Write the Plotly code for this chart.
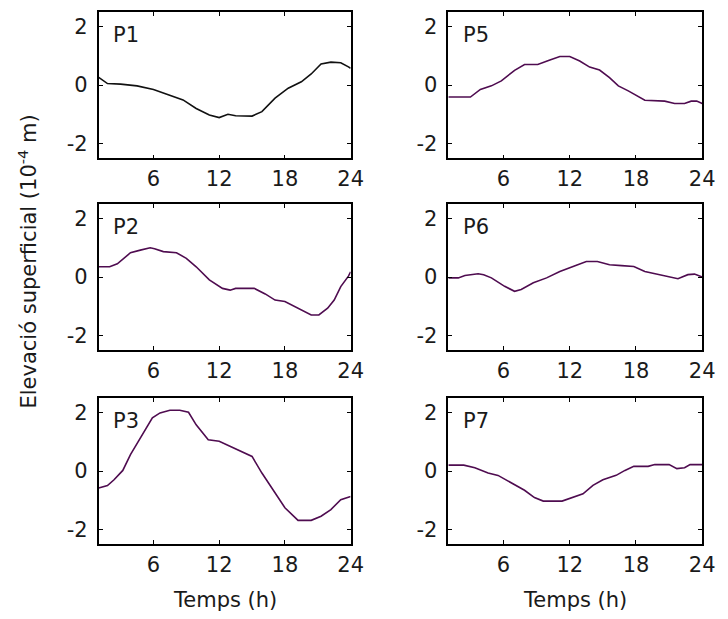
import plotly.graph_objects as go

# ---- data (hours, elevation in 1e-4 m) ----
p1_t = [1, 1.8, 3.0, 4.5, 6.0, 7.5, 8.7, 9.9, 11.1, 12.0, 12.8, 13.5, 15.0, 15.9, 17.1, 18.3, 19.5, 20.4, 21.3, 22.2, 23.1, 23.8, 24]
p1_v = [0.26, 0.05, 0.03, -0.03, -0.15, -0.34, -0.51, -0.80, -1.02, -1.11, -1.00, -1.05, -1.06, -0.91, -0.45, -0.11, 0.11, 0.375, 0.72, 0.78, 0.76, 0.62, 0.57]

p2_t = [1, 2.0, 2.7, 3.9, 4.8, 5.7, 6.1, 6.9, 8.1, 9.0, 9.9, 11.1, 12.3, 13.0, 13.5, 15.2, 16.2, 17.1, 18.0, 19.2, 20.4, 21.1, 21.9, 22.5, 23.1, 23.8, 24]
p2_v = [0.35, 0.35, 0.45, 0.83, 0.92, 1.00, 0.97, 0.87, 0.83, 0.64, 0.35, -0.10, -0.39, -0.45, -0.39, -0.39, -0.58, -0.79, -0.84, -1.07, -1.30, -1.30, -1.07, -0.79, -0.33, 0.03, 0.18]

p3_t = [1, 1.8, 2.4, 3.2, 3.9, 4.8, 5.9, 6.6, 7.5, 8.4, 9.2, 9.9, 11.0, 12.0, 12.9, 14.1, 15.0, 15.9, 17.1, 18.0, 19.2, 20.4, 21.3, 22.2, 23.1, 24]
p3_v = [-0.58, -0.50, -0.30, 0.02, 0.56, 1.13, 1.82, 1.99, 2.08, 2.08, 2.01, 1.58, 1.07, 1.02, 0.87, 0.67, 0.50, -0.07, -0.75, -1.26, -1.69, -1.69, -1.55, -1.32, -0.98, -0.87]

p5_t = [1, 3.0, 3.9, 4.9, 5.8, 7.0, 7.9, 9.1, 10.2, 11.1, 12.0, 12.9, 13.8, 14.7, 15.6, 16.4, 17.3, 18.2, 18.8, 20.6, 21.5, 22.4, 23.0, 23.5, 24]
p5_v = [-0.41, -0.41, -0.15, -0.03, 0.14, 0.50, 0.70, 0.70, 0.85, 0.97, 0.97, 0.82, 0.61, 0.51, 0.25, -0.03, -0.20, -0.41, -0.52, -0.55, -0.63, -0.63, -0.55, -0.55, -0.63]

p6_t = [1, 1.9, 2.5, 3.7, 4.2, 4.9, 6.1, 7.0, 7.6, 8.7, 9.9, 11.1, 12.3, 13.5, 14.5, 15.6, 16.7, 17.8, 18.8, 19.7, 20.9, 21.8, 22.7, 23.3, 24]
p6_v = [-0.03, -0.03, 0.05, 0.11, 0.08, -0.03, -0.32, -0.49, -0.43, -0.20, -0.03, 0.19, 0.36, 0.53, 0.53, 0.42, 0.39, 0.36, 0.19, 0.11, 0.02, -0.06, 0.08, 0.10, 0.00]

p7_t = [1, 2.4, 3.4, 4.6, 5.5, 6.7, 7.9, 8.8, 9.6, 11.3, 12.2, 13.2, 14.1, 15.0, 16.2, 17.0, 17.8, 19.1, 19.7, 21.0, 21.7, 22.4, 22.9, 24]
p7_v = [0.20, 0.20, 0.11, -0.07, -0.15, -0.41, -0.66, -0.91, -1.03, -1.03, -0.91, -0.78, -0.49, -0.30, -0.15, 0.02, 0.16, 0.16, 0.22, 0.22, 0.08, 0.11, 0.22, 0.22]

panel_names = ["P1", "P2", "P3", "P5", "P6", "P7"]
panel_t = [p1_t, p2_t, p3_t, p5_t, p6_t, p7_t]
panel_v = [p1_v, p2_v, p3_v, p5_v, p6_v, p7_v]
panel_colors = ["#111111", "#4f0c50", "#4f0c50", "#4f0c50", "#4f0c50", "#4f0c50"]

x_ticks = [6, 12, 18, 24]
x_ticktext = ["6", "12", "18", "24"]
y_ticks = [-2, 0, 2]
y_ticktext = ["-2", "0", "2"]
y_title = "Elevació superficial (10<sup>-4</sup> m)"
x_title = "Temps (h)"

W, H = 728, 619
FONT = "DejaVu Sans, Arial, sans-serif"
FS = 21
TXT = "#1a1a1a"

# panel pixel boxes (left, right) and (top, bottom)
cols = [(100.5, 357.0), (456.5, 715.0)]
rows = [(11.7, 158.3), (204.0, 350.0), (398.0, 544.0)]

fig = go.Figure()
layout = {}
annotations = []
for i in range(6):
    c = i // 3
    r = i % 3
    n = i + 1
    xa = "xaxis" if n == 1 else f"xaxis{n}"
    ya = "yaxis" if n == 1 else f"yaxis{n}"
    xr = "x" if n == 1 else f"x{n}"
    yr = "y" if n == 1 else f"y{n}"
    x0, x1 = cols[c]
    t0, t1 = rows[r]
    fig.add_trace(go.Scatter(x=panel_t[i], y=panel_v[i], mode="lines",
                             line=dict(color=panel_colors[i], width=1.6),
                             xaxis=xr, yaxis=yr, showlegend=False, hoverinfo="skip"))
    axis_common = dict(showline=True, linecolor="black", linewidth=1.6, mirror="ticks",
                       ticks="inside", ticklen=4, tickwidth=1, tickcolor="black",
                       showgrid=False, zeroline=False,
                       tickfont=dict(family=FONT, size=FS, color=TXT))
    layout[xa] = dict(axis_common, domain=[x0 / W, x1 / W], range=[1, 24],
                      tickmode="array", tickvals=x_ticks, ticktext=x_ticktext, anchor=yr,
                      ticklabelstandoff=1)
    layout[ya] = dict(axis_common, domain=[1 - t1 / H, 1 - t0 / H], range=[-2.5, 2.5],
                      tickmode="array", tickvals=y_ticks, ticktext=y_ticktext, anchor=xr,
                      ticklabelstandoff=5)
    annotations.append(dict(text=panel_names[i], xref=f"{xr} domain", yref=f"{yr} domain",
                            x=0.05, y=0.84, xanchor="left", yanchor="middle",
                            showarrow=False, font=dict(family=FONT, size=FS, color=TXT)))
    if r == 2:
        annotations.append(dict(text=x_title, xref=f"{xr} domain", yref="paper",
                                x=0.5, y=1 - 600 / H, xanchor="center", yanchor="middle",
                                showarrow=False, font=dict(family=FONT, size=FS, color=TXT)))

annotations.append(dict(text=y_title, xref="paper", yref="paper", x=28 / W, y=1 - 262 / H,
                        xanchor="center", yanchor="middle", textangle=-90, showarrow=False,
                        font=dict(family=FONT, size=FS, color=TXT)))

fig.update_layout(width=W, height=H, margin=dict(l=0, r=0, t=0, b=0),
                  paper_bgcolor="white", plot_bgcolor="white",
                  annotations=annotations, **layout)

fig.write_html("out.html")
